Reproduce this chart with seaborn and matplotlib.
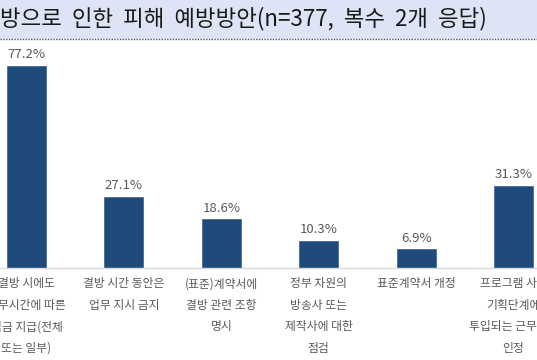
import matplotlib
matplotlib.use("Agg")
import matplotlib.pyplot as plt
import seaborn as sns
import pandas as pd
from matplotlib.patches import Rectangle
from matplotlib.lines import Line2D

categories = [
    "결방 시에도\n근무시간에 따른\n임금 지급(전체\n또는 일부)",
    "결방 시간 동안은\n업무 지시 금지",
    "(표준)계약서에\n결방 관련 조항\n명시",
    "정부 차원의\n방송사 또는\n제작사에 대한\n점검",
    "표준계약서 개정",
    "프로그램 사전\n기획단계에\n투입되는 근무시간\n인정",
]
values = [77.2, 27.1, 18.6, 10.3, 6.9, 31.3]
value_labels = ["77.2%", "27.1%", "18.6%", "10.3%", "6.9%", "31.3%"]
title = "방으로  인한  피해  예방방안(n=377,  복수  2개  응답)"

sns.set_theme(style="white")
plt.rcParams['font.family'] = ['Noto Sans CJK KR', 'DejaVu Sans']

W, H = 537, 360
fig = plt.figure(figsize=(W / 100, H / 100), dpi=100)
fig.patch.set_facecolor("white")

# title band
band_h = 39 / H
fig.patches.append(Rectangle((0, 1 - band_h), 1, band_h, transform=fig.transFigure,
                             facecolor="#dde4f5", edgecolor="none", zorder=0))
fig.lines.append(Line2D([0, 1], [1 - band_h, 1 - band_h], transform=fig.transFigure,
                        color="#555555", linestyle=(0, (1, 1)), linewidth=1.0))
fig.text(0.0, 1 - 19 / H, title, ha="left", va="center", fontsize=16.1, color="#1a1a1a")

bottom = (H - 267.5) / H
top_px = 39
ax = fig.add_axes([0, bottom, 1, (267.5 - top_px) / H])
df = pd.DataFrame({"cat": categories, "val": values})
sns.barplot(data=df, x="cat", y="val", color="#1f4a7c", width=0.40, ax=ax,
            saturation=1, edgecolor="#3a5f8f", linewidth=0.5)
ax.set_xlim(-0.272, 5.241)
ax.set_ylim(0, (267.5 - top_px) / 2.615)
ax.bar_label(ax.containers[0], labels=value_labels, padding=3, fontsize=9.5, color="#595959")
ax.set_xlabel("")
ax.set_ylabel("")
ax.set_yticks([])
ax.tick_params(axis="x", length=0, pad=7, labelsize=8.5, labelcolor="#595959")
for t in ax.get_xticklabels():
    t.set_linespacing(1.85)
for s in ["top", "left", "right"]:
    ax.spines[s].set_visible(False)
ax.spines["bottom"].set_color("#d9d9d9")
ax.spines["bottom"].set_linewidth(1.0)
ax.set_facecolor("white")

fig.savefig("out.png", dpi=100)
